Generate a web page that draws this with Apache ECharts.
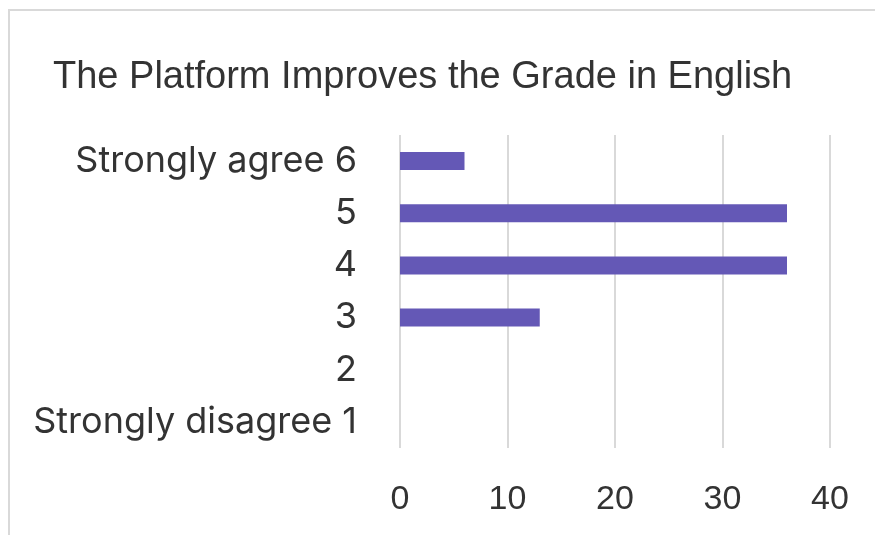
<!DOCTYPE html>
<html>
<head>
<meta charset="utf-8">
<script src="https://cdn.jsdelivr.net/npm/echarts@6/dist/echarts.min.js"></script>
<style>html,body{margin:0;padding:0;background:#fff;}#c{width:875px;height:535px;}</style>
</head>
<body>
<div id="c"></div>
<script>
const titleText = 'The Platform Improves the Grade in English';
const categories = ['Strongly disagree 1', '2', '3', '4', '5', 'Strongly agree 6'];
const values = [0, 0, 13, 36, 36, 6];
const xTicks = [0, 10, 20, 30, 40];

const chart = echarts.init(document.getElementById('c'));
chart.setOption({
  animation: false,
  backgroundColor: '#fff',
  title: {
    text: titleText,
    left: 48, top: 54,
    textStyle: { fontFamily: 'Liberation Sans', fontSize: 38, fontWeight: 'normal', color: '#333333' }
  },
  graphic: [{
    type: 'rect', shape: { x: 9, y: 10, width: 900, height: 600 },
    style: { fill: 'none', stroke: '#d9d9d9', lineWidth: 2 }, silent: true
  }],
  grid: { left: 400, right: 45, top: 135, bottom: 87, containLabel: false },
  xAxis: {
    type: 'value', min: xTicks[0], max: xTicks[xTicks.length - 1], interval: 10,
    axisLine: { show: false }, axisTick: { show: false },
    splitLine: { show: true, lineStyle: { color: '#d9d9d9', width: 2 } },
    axisLabel: { fontFamily: 'Liberation Sans', fontSize: 34, color: '#333333', margin: 35 }
  },
  yAxis: {
    type: 'category', data: categories,
    axisLine: { show: false }, axisTick: { show: false },
    axisLabel: { fontFamily: 'Inter', fontSize: 36, color: '#333333', margin: 43 }
  },
  series: [{
    type: 'bar', data: values, barWidth: 18,
    itemStyle: { color: '#6458b6' }
  }]
});
</script>
</body>
</html>
